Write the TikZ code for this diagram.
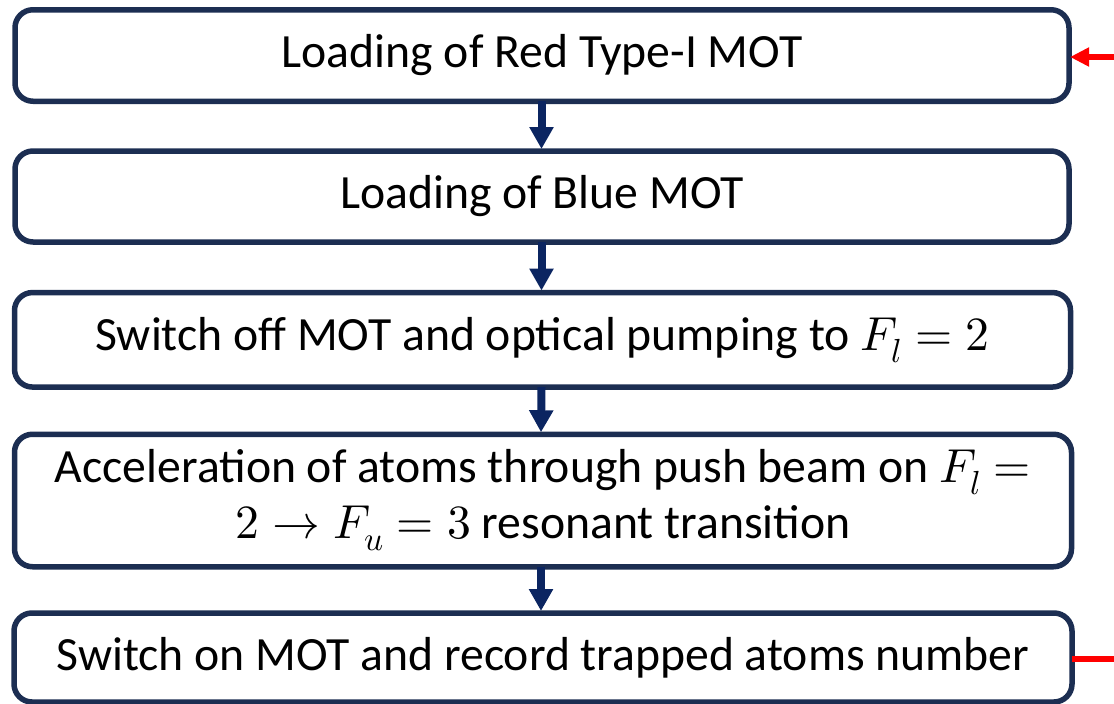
\documentclass[tikz,border=0pt]{standalone}
\usepackage{fontspec}
\usepackage{unicode-math}
\setmainfont{Carlito}
\setmathfont{latinmodern-math.otf}
\usetikzlibrary{arrows.meta}
\definecolor{boxnavy}{HTML}{1C2E52}
\definecolor{arrownavy}{HTML}{0B2561}
\definecolor{arrred}{HTML}{FF0000}
\tikzset{
  stepbox/.style={draw=boxnavy, line width=5.5pt, rounded corners=18pt, fill=white,
    outer sep=0pt, inner sep=0pt, align=center,
    font=\fontsize{47.7}{56}\selectfont},
  flowarrow/.style={draw=arrownavy, line width=8pt,
    -{Triangle[length=22pt,width=23pt]}},
  redarrow/.style={draw=arrred, line width=6pt,
    -{Triangle[length=19pt,width=18pt]}},
  redline/.style={draw=arrred, line width=6pt}
}
\begin{document}
\begin{tikzpicture}[x=1pt,y=1pt]
\useasboundingbox (0,0) rectangle (1114,-704);
\node[stepbox, minimum width=1054pt, minimum height=91.5pt] (b1) at (542,-55.5)
  {Loading of Red Type-I MOT};
\node[stepbox, minimum width=1054pt, minimum height=91pt] (b2) at (542,-196.5)
  {Loading of Blue MOT};
\node[stepbox, minimum width=1056pt, minimum height=94.5pt] (b3) at (542.5,-339.8)
  {Switch off MOT and optical pumping to $F_l = 2$};
\node[stepbox, minimum width=1057pt, minimum height=132.5pt] (b4) at (543,-500.5)
  {Acceleration of atoms through push beam on $F_l =$\\ $2 \rightarrow F_u = 3$ resonant transition};
\node[stepbox, minimum width=1058pt, minimum height=89pt] (b5) at (543,-657.5)
  {Switch on MOT and record trapped atoms number};
\draw[flowarrow] ([xshift=-0.5pt]b1.south) -- ([xshift=-0.5pt,yshift=2pt]b2.north);
\draw[flowarrow] ([xshift=-0.5pt]b2.south) -- ([xshift=-1pt,yshift=2pt]b3.north);
\draw[flowarrow] ([xshift=-1pt]b3.south) -- ([xshift=-2pt,yshift=2pt]b4.north);
\draw[flowarrow] ([xshift=-2pt]b4.south) -- ([xshift=-2pt,yshift=2pt]b5.north);
\coordinate (r1) at (1114,-57);
\coordinate (r2) at (1114,-659);
\draw[redarrow] (r1) -- ([xshift=1pt]r1 -| b1.east);
\draw[redline] (r2 -| b5.east) -- (r2);
\end{tikzpicture}
\end{document}
